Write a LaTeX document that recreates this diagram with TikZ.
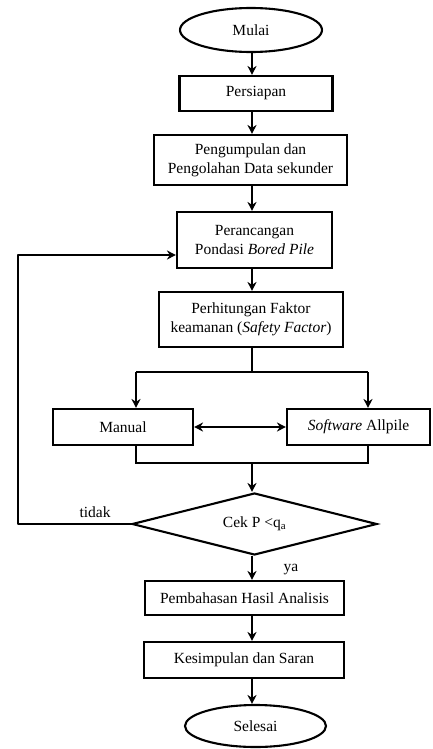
\documentclass[tikz,border=0pt]{standalone}
\usepackage{fontspec}
\setmainfont{Liberation Serif}
\usetikzlibrary{shapes.geometric,arrows.meta}
\begin{document}
\begin{tikzpicture}[x=1pt,y=-1pt,
  txt/.style={font=\fontsize{15.5}{19}\selectfont},
  box/.style={txt,draw,line width=2.1pt,inner sep=0pt,align=center},
  oval/.style={txt,ellipse,draw,line width=2.1pt,inner sep=0pt},
  dia/.style={txt,diamond,draw,line width=2.1pt,inner sep=0pt,aspect=3.95},
  ln/.style={line width=2.1pt},
  arr/.style={ln,-{Stealth[length=9pt,width=9pt]}},
  darr/.style={ln,{Stealth[length=9pt,width=9pt]}-{Stealth[length=9pt,width=9pt]}}]
\useasboundingbox (0,0) rectangle (432,749);
\node[oval,minimum width=142,minimum height=44] (mulai) at (251,30) {Mulai};
\node[box,minimum width=153,minimum height=35] (persiapan) at (256,93.5) {Persiapan};
\node[box,minimum width=193,minimum height=50] (pengumpulan) at (250.5,160) {Pengumpulan dan\\Pengolahan Data sekunder};
\node[box,minimum width=155,minimum height=56] (perancangan) at (254.5,240) {Perancangan\\Pondasi \textit{Bored Pile}};
\node[box,minimum width=184,minimum height=55] (perhitungan) at (251,319.5) {Perhitungan Faktor\\keamanan (\textit{Safety Factor})};
\node[box,minimum width=140,minimum height=36] (manual) at (123,427) {Manual};
\node[box,minimum width=143,minimum height=36] (software) at (358.5,427) {\textit{Software} Allpile};
\node[dia,minimum width=245,minimum height=62] (cek) at (254.5,524) {Cek P {<}q\textsubscript{a}};
\node[box,minimum width=199,minimum height=34] (pembahasan) at (244.5,598) {Pembahasan Hasil Analisis};
\node[box,minimum width=200,minimum height=36] (kesimpulan) at (244,660) {Kesimpulan dan Saran};
\node[oval,minimum width=141,minimum height=42] (selesai) at (255.5,726) {Selesai};
\node[txt] (tidak) at (95,512) {tidak};
\node[txt] (ya) at (291,570) {ya};
\coordinate (sp) at (252,0);
\coordinate (jl) at (136,372);
\coordinate (jr) at (368,372);
\coordinate (ml) at (136,463);
\coordinate (mr) at (368,463);
\coordinate (lb) at (18,524);
\coordinate (lt) at (18,255);
\draw[arr] (sp |- mulai.south) -- (sp |- persiapan.north);
\draw[arr] (sp |- persiapan.south) -- (sp |- pengumpulan.north);
\draw[arr] (sp |- pengumpulan.south) -- (sp |- perancangan.north);
\draw[arr] (sp |- perancangan.south) -- (sp |- perhitungan.north);
\draw[ln] (sp |- perhitungan.south) -- (sp |- jl);
\draw[ln] (jl) -- (jr);
\draw[arr] (jl) -- (jl |- manual.north);
\draw[arr] (jr) -- (jr |- software.north);
\draw[darr] (manual.east) -- (software.west);
\draw[ln] (ml |- manual.south) -- (ml) -- (mr) -- (mr |- software.south);
\draw[arr] (sp |- ml) -- (sp |- cek.north);
\draw[arr,line join=round] (cek.west) -- (lb) -- (lt) -- (perancangan.west |- lt);
\draw[arr] (sp |- cek.south) -- (sp |- pembahasan.north);
\draw[arr] (sp |- pembahasan.south) -- (sp |- kesimpulan.north);
\draw[arr] (sp |- kesimpulan.south) -- (sp |- selesai.north);
\end{tikzpicture}
\end{document}
